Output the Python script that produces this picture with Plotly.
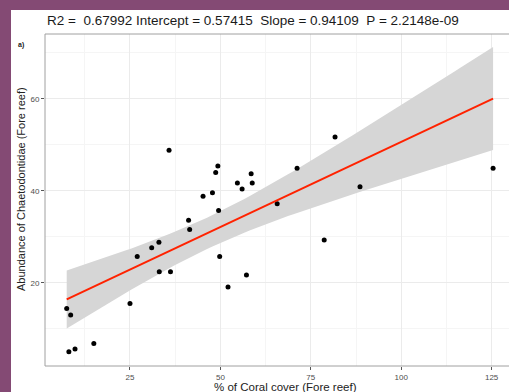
import numpy as np
import plotly.graph_objects as go

# Data
coral_cover = [7.5, 8.6, 8.1, 9.8, 15.0, 25.0, 33.1, 36.2,
               35.8, 49.3, 48.7, 58.5, 54.7, 58.8, 56.0, 47.8, 45.2, 49.5,
               41.2, 41.5, 33.0, 31.0, 27.0, 49.8, 57.2, 52.1,
               81.7, 71.2, 88.6, 65.7, 78.7, 125.4]
abundance = [14.4, 13.0, 5.0, 5.6, 6.8, 15.5, 22.4, 22.4,
             48.8, 45.4, 44.0, 43.7, 41.7, 41.7, 40.4, 39.6, 38.8, 35.7,
             33.6, 31.6, 28.8, 27.6, 25.7, 25.7, 21.7, 19.1,
             51.7, 44.9, 40.9, 37.2, 29.3, 44.9]
x_ticks = [25, 50, 75, 100, 125]
y_ticks = [20, 40, 60]
title_text = "R2 =\u00a0 0.67992 Intercept = 0.57415\u00a0 Slope = 0.94109\u00a0 P = 2.2148e-09"

# linear model + 95% CI (as geom_smooth(method='lm'))
x = np.array(coral_cover)
y = np.array(abundance)
n = len(x)
b1, b0 = np.polyfit(x, y, 1)
resid = y - (b0 + b1 * x)
s = np.sqrt(np.sum(resid**2) / (n - 2))
t_crit = 2.042
xs = np.linspace(x.min(), x.max(), 80)
fit = b0 + b1 * xs
se = s * np.sqrt(1 / n + (xs - x.mean())**2 / np.sum((x - x.mean())**2))
upper = fit + t_crit * se
lower = fit - t_crit * se

W, H = 509, 392
ml, mr, mt, mb = 45, 0, 34, 26
pw, ph = W - ml - mr, H - mt - mb

def px_x(p):
    return (p - ml) / pw

def px_y(p):
    return (H - mb - p) / ph

fig = go.Figure()
fig.add_trace(go.Scatter(x=np.concatenate([xs, xs[::-1]]),
                         y=np.concatenate([upper, lower[::-1]]),
                         fill='toself', fillcolor='#d6d6d6', line=dict(width=0),
                         mode='lines', hoverinfo='skip', showlegend=False))
fig.add_trace(go.Scatter(x=x, y=y, mode='markers',
                         marker=dict(color='black', size=5), showlegend=False))
fig.add_trace(go.Scatter(x=xs, y=fit, mode='lines',
                         line=dict(color='#ff2200', width=2), showlegend=False))

axis_common = dict(showgrid=True, gridcolor='#ebebeb', gridwidth=1,
                   zeroline=False, showline=False,
                   ticks='outside', ticklen=3, tickcolor='#555555', tickwidth=1,
                   tickfont=dict(family='Liberation Sans', size=8, color='#4d4d4d'))
fig.update_xaxes(range=[1.5, 129.8], tickvals=x_ticks,
                 minor=dict(tickvals=[12.5, 37.5, 62.5, 87.5, 112.5], showgrid=True,
                            gridcolor='#f5f5f5', ticks=''),
                 **axis_common)
fig.update_yaxes(range=[1.9, 74.1], tickvals=y_ticks,
                 minor=dict(tickvals=[10, 30, 50, 70], showgrid=True,
                            gridcolor='#f5f5f5', ticks=''),
                 **axis_common)

shapes = [
    dict(type='rect', xref='paper', yref='paper', layer='below',
         x0=px_x(11), x1=1.05, y0=-0.2, y1=px_y(10),
         fillcolor='white', line=dict(width=0)),
    dict(type='rect', xref='paper', yref='paper', layer='above',
         x0=0, x1=1.05, y0=0, y1=1,
         fillcolor='rgba(0,0,0,0)', line=dict(color='#a0a0a0', width=1)),
]

annotations = [
    dict(text=title_text, xref='paper', yref='paper', x=px_x(45), y=px_y(21),
         xanchor='left', yanchor='middle', showarrow=False,
         font=dict(family='Liberation Sans', size=13.5, color='#1a1a1a')),
    dict(text='<b>a)</b>', xref='paper', yref='paper', x=px_x(21), y=px_y(45),
         xanchor='center', yanchor='middle', showarrow=False,
         font=dict(family='Liberation Sans', size=7, color='#222222')),
    dict(text='Abundance of Chaetodontidae (Fore reef)', xref='paper', yref='paper',
         x=px_x(21), y=px_y(189), textangle=-90, xanchor='center', yanchor='middle',
         showarrow=False, font=dict(family='Liberation Sans', size=11, color='#222222')),
    dict(text='% of Coral cover (Fore reef)', xref='paper', yref='paper',
         x=px_x(285), y=px_y(387), xanchor='center', yanchor='middle',
         showarrow=False, font=dict(family='Liberation Sans', size=11.5, color='#222222')),
]

fig.update_layout(width=W, height=H, margin=dict(l=ml, r=mr, t=mt, b=mb),
                  paper_bgcolor='#844a74', plot_bgcolor='white',
                  shapes=shapes, annotations=annotations, showlegend=False)
fig.write_html("out.html", config={'displayModeBar': False},
               post_script="document.body.style.margin='0';document.body.style.overflow='hidden';")
